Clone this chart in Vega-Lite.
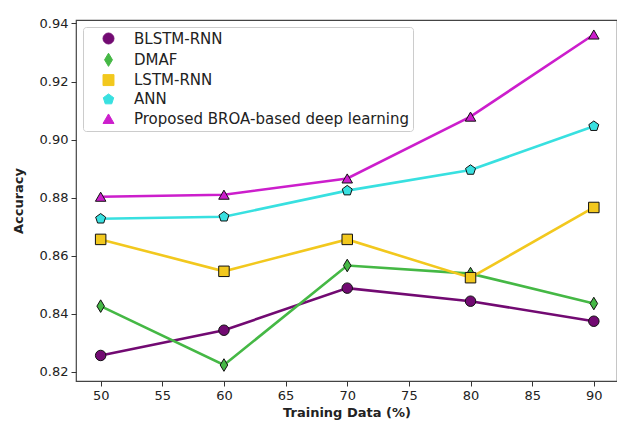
{
  "$schema": "https://vega.github.io/schema/vega-lite/v6.json",
  "autosize": "none",
  "width": 541,
  "height": 361,
  "padding": {"left": 76, "top": 20, "right": 0, "bottom": 46},
  "background": "white",
  "config": {
    "font": "DejaVu Sans",
    "view": {"stroke": "#444", "strokeWidth": 1.2},
    "axis": {"grid": false, "domain": false, "tickColor": "#333", "tickSize": 5, "labelFont": "DejaVu Sans", "labelFontSize": 13, "labelColor": "#222", "titleFont": "DejaVu Sans", "titleFontSize": 13, "titleFontWeight": "bold", "titleColor": "#222"},
    "legend": {"orient": "top-left", "offset": 7, "padding": 4, "strokeColor": "#ccc", "fillColor": "white", "cornerRadius": 3, "labelFontSize": 15, "labelFont": "DejaVu Sans", "labelColor": "#222", "symbolSize": 120, "rowPadding": 3.3, "labelOffset": 18, "symbolOffset": 14, "labelLimit": 400}
  },
  "data": {"values": [
    {"x": 50, "acc": 0.8256, "series": "BLSTM-RNN"},
    {"x": 60, "acc": 0.8343, "series": "BLSTM-RNN"},
    {"x": 70, "acc": 0.8488, "series": "BLSTM-RNN"},
    {"x": 80, "acc": 0.8443, "series": "BLSTM-RNN"},
    {"x": 90, "acc": 0.8374, "series": "BLSTM-RNN"},
    {"x": 50, "acc": 0.8426, "series": "DMAF"},
    {"x": 60, "acc": 0.8223, "series": "DMAF"},
    {"x": 70, "acc": 0.8566, "series": "DMAF"},
    {"x": 80, "acc": 0.8538, "series": "DMAF"},
    {"x": 90, "acc": 0.8435, "series": "DMAF"},
    {"x": 50, "acc": 0.8656, "series": "LSTM-RNN"},
    {"x": 60, "acc": 0.8546, "series": "LSTM-RNN"},
    {"x": 70, "acc": 0.8656, "series": "LSTM-RNN"},
    {"x": 80, "acc": 0.8524, "series": "LSTM-RNN"},
    {"x": 90, "acc": 0.8766, "series": "LSTM-RNN"},
    {"x": 50, "acc": 0.8727, "series": "ANN"},
    {"x": 60, "acc": 0.8734, "series": "ANN"},
    {"x": 70, "acc": 0.8824, "series": "ANN"},
    {"x": 80, "acc": 0.8895, "series": "ANN"},
    {"x": 90, "acc": 0.9046, "series": "ANN"},
    {"x": 50, "acc": 0.8803, "series": "Proposed BROA-based deep learning"},
    {"x": 60, "acc": 0.8810, "series": "Proposed BROA-based deep learning"},
    {"x": 70, "acc": 0.8866, "series": "Proposed BROA-based deep learning"},
    {"x": 80, "acc": 0.9079, "series": "Proposed BROA-based deep learning"},
    {"x": 90, "acc": 0.9362, "series": "Proposed BROA-based deep learning"}
  ]},
  "encoding": {
    "x": {"field": "x", "type": "quantitative", "title": "Training Data (%)",
      "scale": {"domain": [48, 91.88], "nice": false, "zero": false},
      "axis": {"values": [50, 55, 60, 65, 70, 75, 80, 85, 90], "titlePadding": 4, "labelPadding": 3}},
    "y": {"field": "acc", "type": "quantitative", "title": "Accuracy",
      "scale": {"domain": [0.8168, 0.9412], "nice": false, "zero": false},
      "axis": {"values": [0.82, 0.84, 0.86, 0.88, 0.9, 0.92, 0.94], "format": ".2f", "titlePadding": 14, "labelPadding": 3}},
    "color": {"field": "series", "type": "nominal", "title": null,
      "scale": {"domain": ["BLSTM-RNN", "DMAF", "LSTM-RNN", "ANN", "Proposed BROA-based deep learning"],
        "range": ["#720a72", "#45b845", "#f2c81e", "#38e0e0", "#cc1ecc"]},
      "legend": {"symbolStrokeColor": "#111", "symbolStrokeWidth": 1,
        "encode": {"symbols": {"enter": {"stroke": {"value": "#111"}, "strokeWidth": {"value": 1}}, "update": {"stroke": {"value": "#111"}, "strokeWidth": {"value": 1}}}}}}
  },
  "layer": [
    {
      "mark": {"type": "line", "strokeWidth": 2.6}
    },
    {
      "mark": {"type": "point", "filled": true, "size": 110, "stroke": "#111", "strokeWidth": 1, "opacity": 1},
      "encoding": {
        "shape": {"field": "series", "type": "nominal", "title": null,
          "scale": {"domain": ["BLSTM-RNN", "DMAF", "LSTM-RNN", "ANN", "Proposed BROA-based deep learning"],
            "range": ["circle", "M0,-1.2 L0.72,0 L0,1.2 L-0.72,0 Z", "square", "M0,-1 L0.951,-0.309 L0.588,0.809 L-0.588,0.809 L-0.951,-0.309 Z", "triangle-up"]},
          "legend": {"symbolStrokeColor": "#111", "symbolStrokeWidth": 1,
            "encode": {"symbols": {"enter": {"stroke": {"value": "#111"}, "strokeWidth": {"value": 1}}, "update": {"stroke": {"value": "#111"}, "strokeWidth": {"value": 1}}}}}}
      }
    }
  ]
}
